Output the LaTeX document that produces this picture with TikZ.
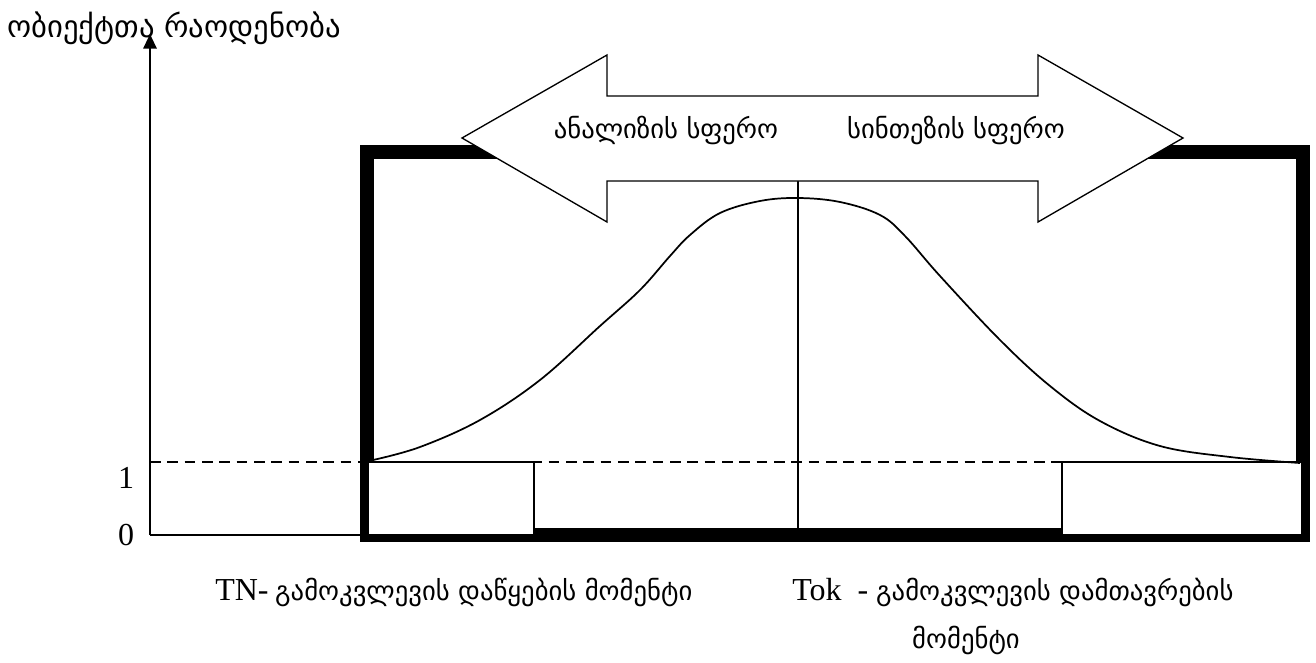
\documentclass[tikz,border=0pt]{standalone}
\usepackage{fontspec}
\usetikzlibrary{arrows.meta}
\setmainfont{Liberation Serif}
\newfontfamily\geofont{DejaVu Sans}
\tikzset{
  geotext/.style={font=\geofont\fontsize{20}{24}\selectfont, inner sep=0pt},
  bigtext/.style={font=\geofont\fontsize{23}{27}\selectfont, inner sep=0pt},
  numtext/.style={font=\fontsize{24}{28}\selectfont, inner sep=0pt},
  thinline/.style={line width=1pt},
  whitebox/.style={thinline, fill=white},
}
\begin{document}
\begin{tikzpicture}[x=0.75pt, y=-0.75pt, >={Triangle[length=11pt, width=10pt]}]
  \useasboundingbox (0,0) rectangle (1316,663);

  % 1. axes
  \coordinate (O) at (150,535);
  \coordinate (ytop) at (150,34);
  \coordinate (xend) at (362,535);
  \node[bigtext, anchor=west] (ylabel) at (7,28) {ობიექტთა რაოდენობა};
  \draw[line width=1.5pt, ->] (O) -- (ytop);
  \draw[line width=1.5pt] (O) -- (xend);
  \node[numtext] (one) at (126,478) {1};
  \node[numtext] (zero) at (126,535) {0};

  % 2. dashed level 1
  \coordinate (d1) at (150,462);
  \coordinate (d2) at (1302,462);
  \draw[thinline, dashed, dash pattern=on 8pt off 5pt] (d1) -- (d2);

  % 3. thick frame
  \draw[line width=10.5pt] (367,152) rectangle (1303,535);

  % 4. boxes TN and Tok
  \draw[whitebox] (368,462) rectangle (534,535);
  \draw[whitebox] (1062,462) rectangle (1302,535);

  % 5. middle line and curve
  \coordinate (mtop) at (798,181);
  \coordinate (mbot) at (798,528);
  \draw[thinline] (mtop) -- (mbot);
  \draw[line width=1.3pt] plot[smooth, tension=0.6] coordinates {
    (373,460) (420,447) (480,420) (540,380) (600,326) (640,290)
    (670,256) (690,235) (720,213) (760,201) (798,198) (840,202)
    (880,215) (905,236) (940,276) (1000,340) (1050,386) (1100,421)
    (1160,446) (1230,457) (1300,463)};

  % 6. double arrow
  \draw[thinline, fill=white] (462,138) -- (607,55) -- (607,96) -- (1038,96)
    -- (1038,55) -- (1183,138) -- (1038,222) -- (1038,181) -- (607,181)
    -- (607,222) -- cycle;
  \node[geotext] (analiz) at (666,130) {ანალიზის სფერო};
  \node[geotext] (sintez) at (956,130) {სინთეზის სფერო};

  % 7. captions
  \node[anchor=base west, inner sep=0pt] (tn) at (215,600)
    {\fontsize{24}{28}\selectfont TN-\hspace{5pt}{\geofont\fontsize{20}{24}\selectfont გამოკვლევის დაწყების მომენტი}};
  \node[anchor=base west, inner sep=0pt] (tok) at (792,600)
    {\fontsize{24}{28}\selectfont Tok\hspace{12pt}-\hspace{6pt}{\geofont\fontsize{20}{24}\selectfont გამოკვლევის დამთავრების}};
  \node[geotext] (moment) at (966,640) {მომენტი};
\end{tikzpicture}
\end{document}
